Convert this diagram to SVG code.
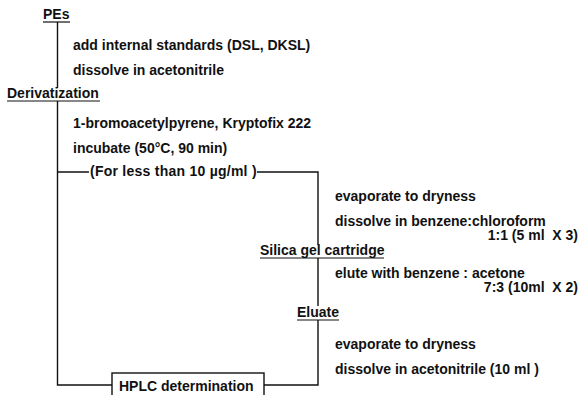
<svg xmlns="http://www.w3.org/2000/svg" width="582" height="395" viewBox="0 0 582 395">
<style>
text{font-family:"Liberation Sans",Arial,sans-serif;font-size:14px;font-weight:bold;fill:#111;white-space:pre}
.ln{stroke:#111;stroke-width:1.4;fill:none}
.ul{stroke:#111;stroke-width:1.2}
</style>
<rect width="582" height="395" fill="#fff"/>
<g id="connectors">
<path class="ln" d="M57.5 22V88M57.5 101V385H112"/>
<path class="ln" d="M57.5 172H89M257 172H318V245M318 258V306M318 320V385H264"/>
</g>
<g id="PEs"><text x="43" y="19">PEs</text><line class="ul" x1="43" y1="22" x2="70" y2="22"/></g>
<g id="step1"><text x="73" y="50">add internal standards (DSL, DKSL)</text><text x="73" y="75">dissolve in acetonitrile</text></g>
<g id="Derivatization"><text x="7" y="98">Derivatization</text><line class="ul" x1="7" y1="101" x2="100" y2="101"/></g>
<g id="step2"><text x="73" y="128">1-bromoacetylpyrene, Kryptofix 222</text><text x="73" y="153">incubate (50°C, 90 min)</text></g>
<g id="condition"><text x="90" y="176" letter-spacing="0.25">(For less than 10 µg/ml )</text></g>
<g id="step3"><text x="335" y="201">evaporate to dryness</text><text x="335" y="226">dissolve in benzene:chloroform</text><text x="578" y="240" text-anchor="end">1:1 (5 ml  X 3)</text></g>
<g id="Silica"><text x="260" y="255">Silica gel cartridge</text><line class="ul" x1="260" y1="258" x2="384" y2="258"/></g>
<g id="step4"><text x="335" y="278">elute with benzene : acetone</text><text x="578" y="292" text-anchor="end">7:3 (10ml  X 2)</text></g>
<g id="Eluate"><text x="297" y="317">Eluate</text><line class="ul" x1="297" y1="320" x2="339" y2="320"/></g>
<g id="step5"><text x="335" y="349">evaporate to dryness</text><text x="335" y="374">dissolve in acetonitrile (10 ml )</text></g>
<g id="HPLC"><rect x="112" y="373" width="152" height="30" fill="#fff" stroke="#111" stroke-width="1.4"/><text x="119" y="391">HPLC determination</text></g>
</svg>
